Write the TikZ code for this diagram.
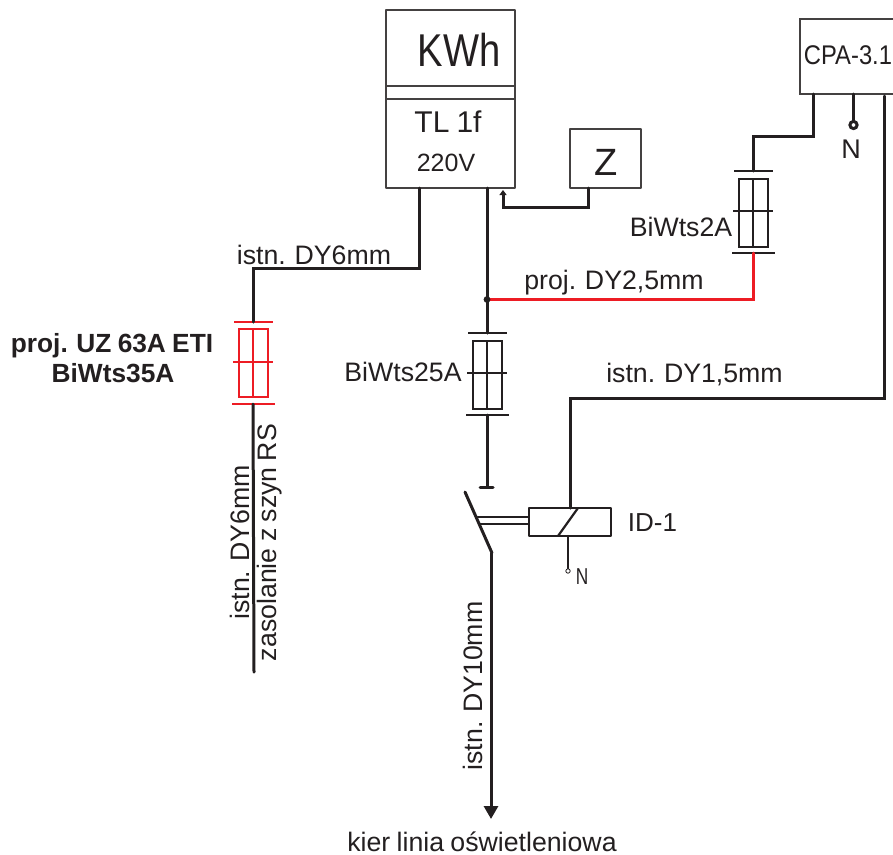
\documentclass[tikz,border=0pt]{standalone}
\usepackage{amsmath}
\usepackage{fontspec}
\usepackage{tkz-euclide}
\setmainfont[WordSpace=.85]{Liberation Sans}
\definecolor{czarny}{HTML}{231F20}
\definecolor{czerwony}{HTML}{ED1C24}
\tikzset{
  wire/.style={line width=3pt,color=czarny},
  box/.style={line width=1.5pt,color=czarny!85},
  opis/.style={text=czarny,inner sep=0pt,font=\fontsize{26.7}{27}\selectfont},
}

\begin{document}
\begin{tikzpicture}[x=1pt,y=-1pt]
\useasboundingbox (0,0) rectangle (893,854);

\tkzDefPoint(386,10){K1}
\tkzDefPoint(515,10){K2}
\tkzDefPoint(515,188){K3}
\tkzDefPoint(386,188){K4}
\tkzDefPoint(386,86){K5}
\tkzDefPoint(515,86){K6}
\tkzDefPoint(386,99){K7}
\tkzDefPoint(515,99){K8}
\tkzDefPoint(570,129){Z1}
\tkzDefPoint(641,129){Z2}
\tkzDefPoint(641,188){Z3}
\tkzDefPoint(570,188){Z4}
\tkzDefPoint(893,19){C1}
\tkzDefPoint(800,19){C2}
\tkzDefPoint(800,94){C3}
\tkzDefPoint(893,94){C4}
\tkzDefPoint(529,508){R1}
\tkzDefPoint(611,508){R2}
\tkzDefPoint(611,536){R3}
\tkzDefPoint(529,536){R4}

\tkzDrawPolygon[box](K1,K2,K3,K4)
\tkzDrawSegments[box](K5,K6 K7,K8)
\tkzDrawPolygon[box](Z1,Z2,Z3,Z4)
\tkzDrawPolySeg[box](C1,C2,C3,C4)
\tkzDrawPolygon[wire,line width=2.2pt](R1,R2,R3,R4)

% bezpieczniki
\foreach \n/\x/\y/\kol/\g in {BL/253/322/czerwony/7,BS/487/333/czarny/8,BP/753/171/czarny/8}{
  \begin{scope}[shift={(\x,\y)},color=\kol]
    \coordinate (\n-top) at (0,0);
    \coordinate (\n-bot) at (0,82);
    \draw[line width=2.6pt] (-19,0) -- (20,0);
    \draw[line width=2.6pt] (-21,82) -- (22,82);
    \draw[line width=2pt] (-14,\g) rectangle (15,\g+68);
    \draw[line width=2pt] (-20,40) -- (20,40);
    \draw[line width=2.2pt] (0,\g) -- (0,\g+68);
  \end{scope}
}

\tkzDefPoint(419,188){A1}
\tkzDefPoint(419,268){A2}
\tkzDefPoint(253,268){A3}
\tkzDefPoint(254,672){A4}
\tkzDefPoint(487,188){M1}
\tkzDefPoint(487,299.5){M2}
\tkzDefPoint(487,487){M3}
\tkzDefPoint(480,487){M4}
\tkzDefPoint(493,487){M5}
\tkzDefPoint(753,299.5){M6}
\tkzDefPoint(588,188){Z5}
\tkzDefPoint(588,207){Z6}
\tkzDefPoint(503,207){Z7}
\tkzDefPoint(503,190){Z8}
\tkzDefPoint(813,94){P1}
\tkzDefPoint(813,136){P2}
\tkzDefPoint(753,136){P3}
\tkzDefPoint(853.5,94){P4}
\tkzDefPoint(853.5,121.5){P5}
\tkzDefPoint(884,96){P6}
\tkzDefPoint(884,398.5){P7}
\tkzDefPoint(570.5,398.5){P8}
\tkzDefPoint(570.5,508){P9}
\tkzDefPoint(465,492){W1}
\tkzDefPoint(492,553){W2}
\tkzDefPoint(491,553){W3}
\tkzDefPoint(491,819){W4}
\tkzDefPoint(477.5,517){W5}
\tkzDefPoint(529,517){W6}
\tkzDefPoint(480,524){W7}
\tkzDefPoint(529,524){W8}
\tkzDefPoint(578,508){R5}
\tkzDefPoint(558,536){R6}
\tkzDefPoint(568,536){R7}
\tkzDefPoint(568,569){R8}

\tkzDrawPolySeg[wire](A1,A2,A3,BL-top)
\tkzDrawSegment[wire](BL-bot,A4)
\tkzDrawSegment[wire](M1,BS-top)
\tkzDrawSegment[wire](BS-bot,M3)
\tkzDrawSegment[wire](M4,M5)
\tkzDrawPolySeg[line width=3pt,color=czerwony](M2,M6,BP-bot)
\tkzDrawPolySeg[wire](P1,P2,P3,BP-top)
\tkzDrawSegment[wire](P4,P5)
\tkzDrawPolySeg[wire](P6,P7,P8,P9)
\tkzDrawSegment[wire](W1,W2)
\tkzDrawSegment[wire,-{Triangle[length=13pt,width=14pt]}](W3,W4)
\tkzDrawSegments[line width=1.6pt,color=czarny](W5,W6 W7,W8)
\tkzDrawSegment[wire,line width=2.2pt](R5,R6)
\tkzDrawSegment[wire,line width=2.2pt](R7,R8)
\tkzDrawPolySeg[wire,-{Triangle[length=5pt,width=7pt]}](Z5,Z6,Z7,Z8)

\fill[czarny] (M2) circle (3.4);
\draw[wire,fill=white] (853.5,125) circle (3.6);
\draw[line width=.8pt,color=czarny,fill=white] (568,571) circle (2.2);

\node[opis,xscale=.83,font=\fontsize{46}{46}\selectfont] (kwh) at (459,50) {KWh};
\node[opis,font=\fontsize{30}{30}\selectfont] (tl) at (448,122) {TL 1f};
\node[opis,font=\fontsize{25}{25}\selectfont] (v220) at (446,163) {220V};
\node[opis,font=\fontsize{38}{38}\selectfont] (z) at (606.5,162) {Z};
\node[opis,xscale=.88,font=\fontsize{27}{27}\selectfont] (cpa) at (848,55) {CPA-3.1};
\node[opis,font=\fontsize{27}{27}\selectfont] (n1) at (851,149) {N};
\node[opis,xscale=.75,font=\fontsize{23}{23}\selectfont] (n2) at (582,577) {N};
\node[opis,font=\fontsize{26}{26}\selectfont] (id) at (652.5,523) {ID-1};
\node[opis] (dy6) at (314,255) {istn. DY6mm};
\node[opis] (dy25) at (614,283) {proj. DY2,5mm};
\node[opis] (bi2) at (681,227) {BiWts2A};
\node[opis] (bi25) at (403,372) {BiWts25A};
\node[opis] (dy15) at (694.5,375) {istn. DY1,5mm};
\node[opis,font=\fontsize{26.3}{27}\selectfont\bfseries] (uz) at (112,346) {proj. UZ 63A ETI};
\node[opis,font=\fontsize{26.3}{27}\selectfont\bfseries] (bi35) at (113,373.5) {BiWts35A};
\node[opis,rotate=90] (dy6b) at (240,542.5) {istn. DY6mm};
\node[opis,rotate=90] (szyn) at (270,542.5) {zasolanie z szyn RS};
\node[opis,rotate=90] (dy10) at (473,686) {istn. DY10mm};
\node[opis] (kier) at (482,841.5) {kier linia oświetleniowa};

\end{tikzpicture}
\end{document}
